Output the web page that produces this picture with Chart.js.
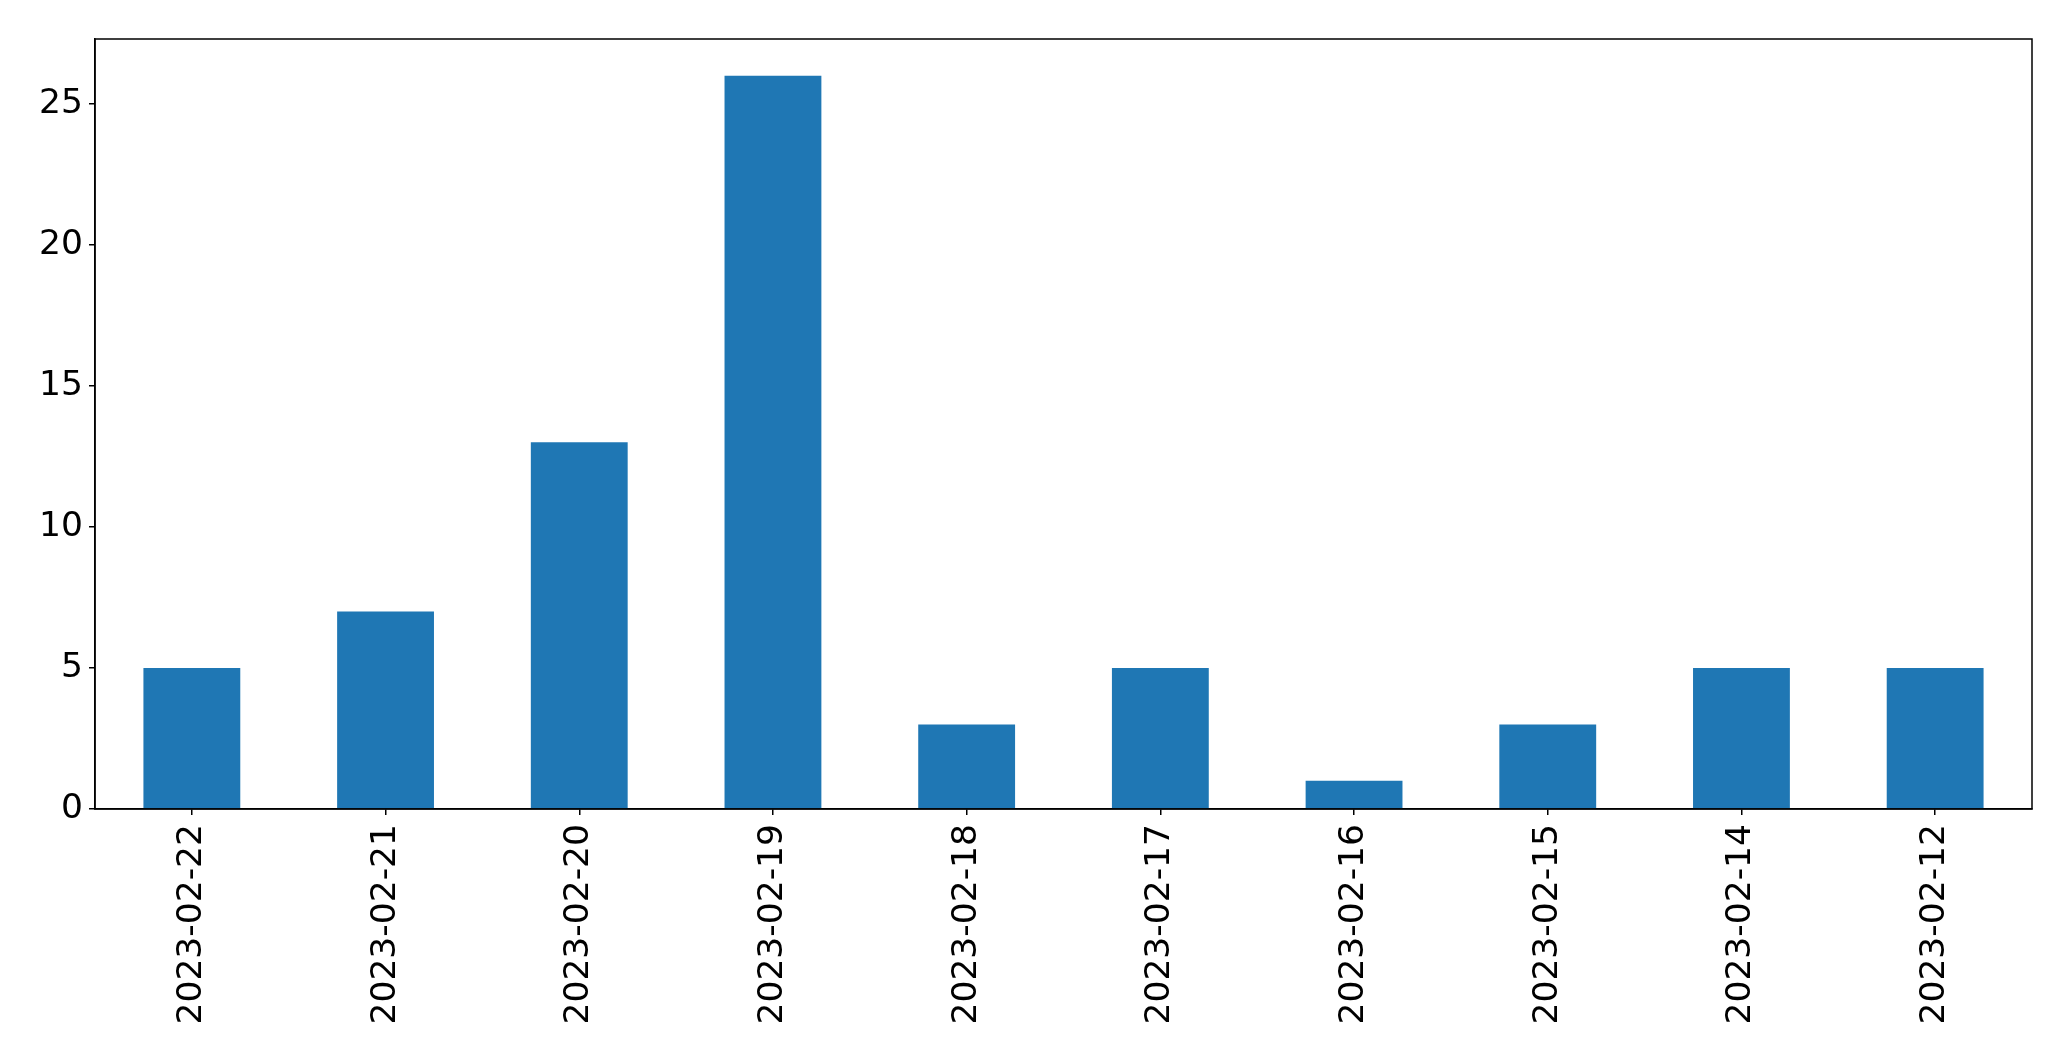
<!DOCTYPE html>
<html>
<head>
<meta charset="utf-8">
<script src="https://cdn.jsdelivr.net/npm/chart.js@4/dist/chart.umd.min.js"></script>
<style>
  body { margin: 0; background: #fff; }
</style>
</head>
<body>
<canvas id="myChart" width="2071" height="1061"></canvas>
<script>
const dates = ["2023-02-22", "2023-02-21", "2023-02-20", "2023-02-19", "2023-02-18",
               "2023-02-17", "2023-02-16", "2023-02-15", "2023-02-14", "2023-02-12"];
const counts = [5, 7, 13, 26, 3, 5, 1, 3, 5, 5];
const yTicks = [0, 5, 10, 15, 20, 25];

// box round the plot area, like matplotlib's spines
const frame = {
    id: "frame",
    afterDraw(chart) {
        const { ctx, chartArea: a } = chart;
        ctx.save();
        ctx.strokeStyle = "#000";
        ctx.lineWidth = 1.5;
        ctx.strokeRect(a.left, a.top, a.right - a.left, a.bottom - a.top);
        ctx.restore();
    },
};

const ctx = document.getElementById("myChart").getContext("2d");
const myChart = new Chart(ctx, {
    type: "bar",
    data: {
        labels: dates,
        datasets: [
            {
                data: counts,
                backgroundColor: "#1f77b4",
                borderWidth: 0,
                barPercentage: 0.5,
                categoryPercentage: 1,
            },
        ],
    },
    options: {
        responsive: false,
        animation: false,
        devicePixelRatio: 1,
        layout: { padding: { top: 39, right: 39, left: 0, bottom: 0 } },
        plugins: { legend: { display: false }, tooltip: { enabled: false } },
        scales: {
            x: {
                offset: true,
                afterFit(scale) { scale.height = 252; },
                grid: { display: true, offset: false, drawOnChartArea: false, drawTicks: true, tickLength: 6, color: "#000", lineWidth: 1.5 },
                border: { display: true, color: "#000", width: 1.5 },
                ticks: {
                    color: "#000",
                    font: { family: "DejaVu Sans", size: 34.5 },
                    minRotation: 90,
                    maxRotation: 90,
                    autoSkip: false,
                    padding: 9,
                },
            },
            y: {
                min: 0,
                max: 27.3,
                afterFit(scale) { scale.width = 95; },
                afterBuildTicks(scale) { scale.ticks = yTicks.map(v => ({ value: v })); },
                grid: { display: true, drawOnChartArea: false, drawTicks: true, tickLength: 6, color: "#000", lineWidth: 1.5 },
                border: { display: true, color: "#000", width: 1.5 },
                ticks: {
                    color: "#000",
                    font: { family: "DejaVu Sans", size: 34.5 },
                    padding: 6,
                },
            },
        },
    },
    plugins: [frame],
});
</script>
</body>
</html>
